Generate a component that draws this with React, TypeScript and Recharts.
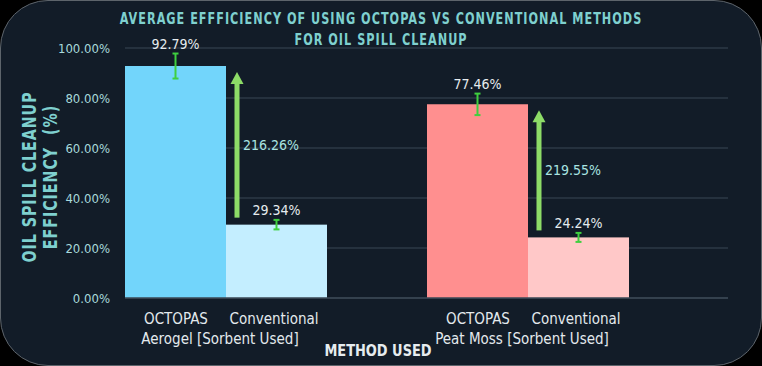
import { Bar, BarChart, CartesianGrid, Cell, ErrorBar, LabelList, XAxis, YAxis } from 'recharts';

const sorbents = ['Aerogel [Sorbent Used]', 'Peat Moss [Sorbent Used]'];
const methods = ['OCTOPAS', 'Conventional'];
const octopas = [92.79, 77.46];
const conventional = [29.34, 24.24];
const octopasErr = [5, 4.3];
const conventionalErr = [1.9, 1.8];
const increase = ['216.26%', '219.55%'];
const yTicks = [0, 20, 40, 60, 80, 100];

const octopasColors = ['#72d5fb', '#ff8f8f'];
const conventionalColors = ['#c4eeff', '#ffc8c8'];

const data = sorbents.map((s, i) => ({
	sorbent: s,
	octopas: octopas[i],
	conventional: conventional[i],
	octopasErr: octopasErr[i],
	conventionalErr: conventionalErr[i],
	increase: increase[i],
}));

const FONT = '"DejaVu Sans Condensed", "DejaVu Sans", sans-serif';

const CategoryTick = (props: any) => {
	const { x, y, payload } = props;
	const half = 50;
	return (
		<g fontFamily={FONT} fontSize={15} style={{ fontStretch: 'condensed' }}>
			<text x={x - half} y={y + 18} textAnchor='middle' fill='#e3e9ed'>{methods[0]}</text>
			<text x={x + half - 2} y={y + 18} textAnchor='middle' fill='#e3e9ed'>{methods[1]}</text>
			<text x={x - 6} y={y + 38} textAnchor='middle' fill='#e3e9ed'>{payload.value}</text>
		</g>
	);
};

// conventional bar + green arrow up to the OCTOPAS level
const ConventionalShape = (props: any) => {
	const { x, y, width, height, fill, payload } = props;
	const ppu = height / payload.conventional;
	const ax = x + 11;
	const bottom = y - 7;
	const tip = y - (payload.octopas - payload.conventional) * ppu + 6;
	return (
		<g>
			<rect x={x} y={y} width={width} height={height} fill={fill} />
			<rect x={ax - 2.5} y={tip + 11} width={5} height={bottom - tip - 11} fill='#8ddc67' />
			<polygon points={`${ax},${tip} ${ax - 6.5},${tip + 12} ${ax + 6.5},${tip + 12}`} fill='#8ddc67' />
			<text
				x={ax + 6}
				y={(tip + bottom) / 2 + 5}
				fill='#a9e4e2'
				fontSize={14}
				fontFamily={FONT}
				style={{ fontStretch: 'condensed' }}
			>
				{payload.increase}
			</text>
		</g>
	);
};

const valueLabel = (errs: number[], vals: number[]) => (props: any) => {
	const { x, y, width, height, index } = props;
	const ppu = height / vals[index];
	return (
		<text
			x={x + width / 2}
			y={y - errs[index] * ppu - 5}
			textAnchor='middle'
			fill='#e6ecef'
			fontSize={14}
			fontFamily={FONT}
			style={{ fontStretch: 'condensed' }}
		>
			{vals[index].toFixed(2)}%
		</text>
	);
};

export default function App() {
	return (
		<div style={{ position: 'absolute', left: 0, top: 0, width: 762, height: 366, background: '#000', overflow: 'hidden' }}>
			<div
				style={{
					position: 'absolute',
					inset: 0,
					background: '#121c28',
					borderRadius: 48,
					border: '1.5px solid #5d646b',
				}}
			/>
			{/* title */}
			<div
				style={{
					position: 'absolute',
					left: 0,
					top: 8,
					width: 762,
					textAlign: 'center',
					color: '#7fd0cf',
					fontFamily: FONT,
					fontWeight: 'bold',
					fontSize: 16,
					lineHeight: '21px',
					letterSpacing: 1.3,
					transform: 'scaleX(0.78)',
				}}
			>
				AVERAGE EFFFICIENCY OF USING OCTOPAS VS CONVENTIONAL METHODS
				<br />
				FOR OIL SPILL CLEANUP
			</div>
			{/* y axis title */}
			<div
				style={{
					position: 'absolute',
					left: 40 - 120,
					top: 177 - 21,
					width: 240,
					height: 42,
					transform: 'rotate(-90deg) scaleX(0.83)',
					textAlign: 'center',
					color: '#7fd0cf',
					fontFamily: FONT,
					fontWeight: 'bold',
					fontSize: 19,
					lineHeight: '21px',
					letterSpacing: 1.2,
				}}
			>
				OIL SPILL CLEANUP
				<br />
				EFFICIENCY&nbsp;&nbsp;(%)
			</div>
			{/* x axis title */}
			<div
				style={{
					position: 'absolute',
					left: 378 - 80,
					top: 341,
					width: 160,
					textAlign: 'center',
					color: '#e6ecef',
					fontFamily: FONT,
					fontWeight: 'bold',
					fontSize: 16,
					transform: 'scaleX(0.9)',
				}}
			>
				METHOD USED
			</div>
			<div style={{ position: 'absolute', left: 0, top: 0 }}>
				<BarChart
					width={762}
					height={366}
					data={data}
					margin={{ top: 48, right: 34, bottom: 38, left: 65 }}
					barCategoryGap={50}
					barGap={0}
				>
					<CartesianGrid vertical={false} stroke='#2c3946' strokeWidth={1.5} />
					<XAxis
						dataKey='sorbent'
						height={30}
						padding={{ left: -50, right: 49 }}
						axisLine={{ stroke: '#3a4754', strokeWidth: 1.5 }}
						tickLine={false}
						tick={<CategoryTick />}
						interval={0}
					/>
					<YAxis
						width={60}
						domain={[0, 100]}
						ticks={yTicks}
						axisLine={false}
						tickLine={false}
						tickSize={0}
						tickMargin={15}
						tickFormatter={(v: number) => `${v.toFixed(2)}%`}
						tick={{ fill: '#a8dadc', fontSize: 13, fontFamily: FONT, style: { fontStretch: 'condensed' } }}
					/>
					<Bar dataKey='octopas' isAnimationActive={false}>
						{data.map((_, i) => (
							<Cell key={i} fill={octopasColors[i]} />
						))}
						<ErrorBar dataKey='octopasErr' width={3} stroke='#3fcf3f' strokeWidth={2} direction='y' isAnimationActive={false} />
						<LabelList dataKey='octopas' content={valueLabel(octopasErr, octopas)} />
					</Bar>
					<Bar dataKey='conventional' isAnimationActive={false} shape={<ConventionalShape />}>
						{data.map((_, i) => (
							<Cell key={i} fill={conventionalColors[i]} />
						))}
						<ErrorBar dataKey='conventionalErr' width={3} stroke='#3fcf3f' strokeWidth={2} direction='y' isAnimationActive={false} />
						<LabelList dataKey='conventional' content={valueLabel(conventionalErr, conventional)} />
					</Bar>
				</BarChart>
			</div>
		</div>
	);
}
